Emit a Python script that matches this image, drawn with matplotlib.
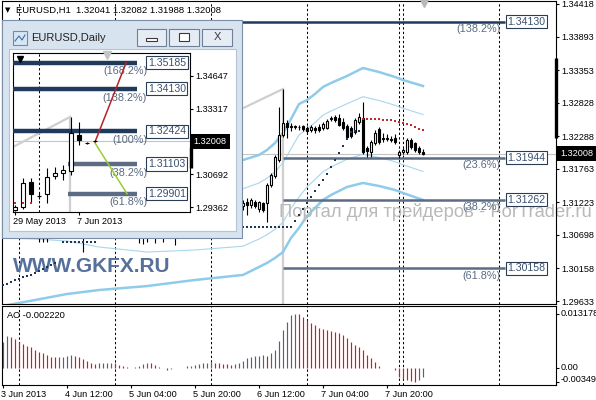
import matplotlib
matplotlib.use("Agg")
import matplotlib.pyplot as plt
import matplotlib.transforms as mtransforms
from matplotlib.patches import Rectangle
from matplotlib.lines import Line2D
import numpy as np

plt.rcParams['font.family'] = ['Liberation Sans', 'DejaVu Sans']

W, H = 596, 400

# ---------------- EURUSD H1 (bar number, OHLC) ----------------
h1_bar = [9, 10, 11, 20, 34, 35, 36, 38, 40, 43,
          60, 61, 62, 63, 64, 65, 66, 67, 68, 69,
          70, 71, 72, 73, 74, 75, 76, 77, 78, 79,
          80, 81, 82, 83, 84, 85, 86, 87, 88, 89,
          90, 91, 92, 93, 94, 95, 96, 97, 98, 99,
          100, 101, 102, 103, 104, 105]
h1_open = [1.30720, 1.30700, 1.30740, 1.30710, 1.30760, 1.30720, 1.30750, 1.30700, 1.30730, 1.30710,
           1.31164, 1.31228, 1.31180, 1.31228, 1.31115, 1.31212, 1.31212, 1.31502, 1.31647, 1.31905,
           1.32308, 1.32501, 1.32453, 1.32437, 1.32437, 1.32445, 1.32420, 1.32388, 1.32420, 1.32437,
           1.32420, 1.32420, 1.32573, 1.32598, 1.32582, 1.32517, 1.32453, 1.32420, 1.32356, 1.32517,
           1.32582, 1.32098, 1.32034, 1.32179, 1.32404, 1.32259, 1.32259, 1.32235, 1.32259, 1.31985,
           1.32034, 1.32034, 1.32227, 1.32179, 1.32098, 1.32041]
h1_high = [1.30790, 1.30760, 1.30800, 1.30820, 1.30830, 1.30790, 1.30810, 1.30780, 1.30800, 1.30790,
           1.31260, 1.31293, 1.31293, 1.31260, 1.31244, 1.31228, 1.31534, 1.31695, 1.31985, 1.32759,
           1.33049, 1.32549, 1.32501, 1.32469, 1.32469, 1.32469, 1.32453, 1.32469, 1.32453, 1.32485,
           1.32517, 1.32565, 1.32614, 1.32630, 1.32646, 1.32582, 1.32485, 1.32453, 1.32582, 1.32662,
           1.32839, 1.32130, 1.32227, 1.32388, 1.32437, 1.32340, 1.32324, 1.32292, 1.32324, 1.32066,
           1.32098, 1.32259, 1.32259, 1.32195, 1.32130, 1.32082]
h1_low = [1.30584, 1.30590, 1.30584, 1.30423, 1.30568, 1.30552, 1.30584, 1.30568, 1.30584, 1.30536,
          1.31099, 1.31019, 1.31132, 1.31132, 1.31067, 1.31067, 1.30906, 1.31470, 1.31615, 1.31873,
          1.32276, 1.32259, 1.32372, 1.32404, 1.32388, 1.32372, 1.32324, 1.32356, 1.32340, 1.32356,
          1.32388, 1.32404, 1.32533, 1.32517, 1.32453, 1.32388, 1.32243, 1.32259, 1.32324, 1.32485,
          1.32002, 1.31953, 1.31953, 1.32147, 1.32163, 1.32195, 1.32211, 1.32195, 1.32163, 1.31937,
          1.32002, 1.32002, 1.32082, 1.32034, 1.32002, 1.31988]
h1_close = [1.30700, 1.30740, 1.30690, 1.30760, 1.30720, 1.30750, 1.30700, 1.30730, 1.30710, 1.30750,
            1.31212, 1.31180, 1.31260, 1.31164, 1.31228, 1.31099, 1.31502, 1.31663, 1.31953, 1.32308,
            1.32501, 1.32437, 1.32437, 1.32445, 1.32429, 1.32404, 1.32372, 1.32437, 1.32380, 1.32388,
            1.32485, 1.32533, 1.32582, 1.32549, 1.32469, 1.32420, 1.32276, 1.32292, 1.32549, 1.32598,
            1.32034, 1.32050, 1.32195, 1.32340, 1.32195, 1.32251, 1.32243, 1.32227, 1.32195, 1.32034,
            1.32066, 1.32227, 1.32114, 1.32066, 1.32034, 1.32008]

# Bollinger bands: middle line and deviation, read at sample bars
bb_bar = [0, 8, 16, 24, 36, 48, 60, 64, 66, 68, 70, 72, 74, 76, 78, 80, 82, 86, 90, 94, 98, 100, 105]
bb_mid = [1.31744, 1.31615, 1.31454, 1.31196, 1.30970, 1.30938, 1.30979, 1.31083, 1.31156, 1.31252,
          1.31381, 1.31607, 1.31808, 1.31937, 1.32050, 1.32171, 1.32243, 1.32364, 1.32461, 1.32404,
          1.32332, 1.32283, 1.32179]
bb_dev = [0.01095, 0.00983, 0.00854, 0.00693, 0.00548, 0.00483, 0.00463, 0.00451, 0.00455, 0.00463,
          0.00479, 0.00479, 0.00499, 0.00467, 0.00459, 0.00455, 0.00451, 0.00447, 0.00463, 0.00459,
          0.00455, 0.00455, 0.00459]

# Parabolic SAR
sar_up_bar = [0, 1, 2, 3, 4, 5, 6, 7, 8, 9, 10, 11, 12, 13,
              15, 16, 17, 18, 19, 20, 21, 22, 23,
              60, 61, 62, 63, 64, 65, 66, 67, 68, 69, 70, 71, 72,
              73, 74, 75, 76, 77, 78, 79, 80, 81, 82, 83, 84, 85, 86, 87, 88, 89]
sar_up = [1.29891, 1.29915, 1.29940, 1.29964, 1.29988, 1.30012, 1.30036, 1.30060, 1.30085, 1.30117,
          1.30149, 1.30181, 1.30213, 1.30246,
          1.30584, 1.30584, 1.30584, 1.30584, 1.30584, 1.30584, 1.30584, 1.30584, 1.30584,
          1.30825, 1.30825, 1.30825, 1.30825, 1.30825, 1.30825, 1.30825, 1.30825, 1.30825, 1.30825,
          1.30825, 1.30825, 1.30825,
          1.30922, 1.31019, 1.31115, 1.31212, 1.31309, 1.31405, 1.31502, 1.31583, 1.31679, 1.31792,
          1.31905, 1.32018, 1.32130, 1.32243, 1.32356, 1.32372, 1.32372]
sar_dn_bar = list(range(90, 106))
sar_dn = [1.32573, 1.32573, 1.32573, 1.32565, 1.32565, 1.32557, 1.32549, 1.32541,
          1.32533, 1.32517, 1.32501, 1.32485, 1.32461, 1.32436, 1.32412, 1.32388]

# Fibonacci levels on H1
fib_levels = [1.34130, 1.31944, 1.31262, 1.30158]
fib_names = ['(138.2%)', '(23.6%)', '(38.2%)', '(61.8%)']
fib_start = [0, 70, 70, 70]
trend_bar = [50, 70]
trend_price = [1.32429, 1.33049]

main_ticks = [1.34418, 1.33893, 1.33353, 1.32828, 1.32288, 1.31763, 1.31223, 1.30698, 1.30158, 1.29633]
bid = 1.32008

# Awesome oscillator
ao = [0.00634, 0.00781, 0.00756, 0.00708, 0.00634, 0.00586, 0.00537, 0.00512, 0.00439, 0.00390,
      0.00366, 0.00317, 0.00275, 0.00262, 0.00268, 0.00275, 0.00290, 0.00315, 0.00295, 0.00270,
      0.00220, 0.00170, 0.00122, 0.00098, 0.00110, 0.00118, 0.00125, 0.00130, 0.00120, 0.00075,
      0.00050, 0.00025, 0.00005, 0.00020, 0.00050, 0.00095, 0.00122, 0.00115, 0.00075, 0.00030,
      0.00005, -0.00045, -0.00025, -0.00005, 0.00002, 0.00010, 0.00050, 0.00058, 0.00075, 0.00098,
      0.00120, 0.00125, 0.00145, 0.00130, 0.00120, 0.00100, 0.00095, 0.00078, 0.00098, 0.00122,
      0.00170, 0.00245, 0.00268, 0.00295, 0.00300, 0.00305, 0.00300, 0.00366, 0.00440, 0.00660,
      0.00927, 0.01122, 0.01293, 0.01318, 0.01310, 0.01245, 0.01171, 0.01098, 0.01049, 0.00976,
      0.00952, 0.00927, 0.00903, 0.00878, 0.00854, 0.00805, 0.00732, 0.00634, 0.00561, 0.00512,
      0.00439, 0.00317, 0.00244, 0.00146, 0.00049, 0.00012, 0.00006, 0.00002, -0.00050, -0.00230,
      -0.00270, -0.00300, -0.00325, -0.00349, -0.00290, -0.00222]
ao_ticks = [0.013178, 0.0, -0.00349]
ao_tick_labels = ['0.013178', '0.00', '-0.00349']

date_bars = [0, 16, 32, 48, 64, 80, 96]
date_labels = ['3 Jun 2013', '4 Jun 12:00', '5 Jun 04:00', '5 Jun 20:00',
               '6 Jun 12:00', '7 Jun 04:00', '7 Jun 20:00']
grid_bars = [4, 28, 52, 76, 99, 100, 124]

# ---------------- EURUSD Daily (inset window) ----------------
d_bar = list(range(11))
d_open = [1.29246, 1.29367, 1.30374, 1.29810, 1.29891, 1.30616, 1.30738, 1.30818, 1.32269, 1.31947, 1.32041]
d_high = [1.29447, 1.30536, 1.30536, 1.29931, 1.30939, 1.30980, 1.31060, 1.33000, 1.32793, 1.31987, 1.32082]
d_low = [1.29206, 1.29286, 1.29528, 1.29689, 1.29528, 1.30496, 1.30455, 1.30657, 1.31866, 1.31906, 1.31988]
d_close = [1.29367, 1.30334, 1.29891, 1.29790, 1.30576, 1.30738, 1.30858, 1.32350, 1.32067, 1.31927, 1.32008]
d_sar_bar = [0, 1, 2]
d_sar = [1.29528, 1.29528, 1.29528]
d_fib_levels = [1.35185, 1.34130, 1.32424, 1.31103, 1.29901]
d_fib_names = ['(168.2%)', '(138.2%)', '(100%)', '(38.2%)', '(61.8%)']
d_fib_start = [-0.25, -0.25, -0.25, 6.6, 6.6]
d_up_x, d_up_y = [10, 13.9], [1.31987, 1.35185]
d_dn_x, d_dn_y = [10, 14], [1.31947, 1.29901]
d_trend_x, d_trend_y = [-0.25, 6.9], [1.31785, 1.33000]
d_ticks = [1.34647, 1.33317, 1.30692, 1.29362]
d_date_bars = [0, 8]
d_date_labels = ['29 May 2013', '7 Jun 2013']
d_bar_range = [1.31785, 1.30939]
h1_bar_range = [1.33548, 1.32259]

NAVY = '#1f3a5a'
SLATE = '#5c6c84'
BAND = '#8fcbea'
AO_UP = '#5a6272'
AO_DN = '#c0222a'


def box(x0, y0, x1, y1):
    return [x0 / W, 1 - y1 / H, (x1 - x0) / W, (y1 - y0) / H]


def candles(a, bars, o, h, l, c, width):
    bars, o, h, l, c = map(np.asarray, (bars, o, h, l, c))
    a.vlines(bars, l, h, color='black', lw=0.8, zorder=4)
    up = c >= o
    bottom = np.minimum(o, c)
    height = np.abs(c - o)
    a.bar(bars[up], height[up], width, bottom[up], facecolor='white',
          edgecolor='black', lw=0.8, zorder=5)
    a.bar(bars[~up], height[~up], width, bottom[~up], facecolor='black',
          edgecolor='black', lw=0.8, zorder=5)


fig = plt.figure(figsize=(W / 100, H / 100), dpi=100)
ax = fig.add_axes(box(2, 1, 556, 304))
ax_ao = fig.add_axes(box(2, 306, 556, 385))

# ---------------- main H1 chart ----------------
for a in (ax, ax_ao):
    a.set_xlim(-0.25, 138.25)
    for s in a.spines.values():
        s.set_linewidth(0.8)
    for g in grid_bars:
        a.axvline(g, color='black', lw=0.75, ls=(0, (2.2, 2.2)), zorder=1)
ax.set_ylim(1.29585, 1.34466)

ax.axhline(bid, color='#c4c4c4', lw=0.8, zorder=1)
ax.plot(trend_bar, trend_price, color='#cfcfcf', lw=1.6, zorder=1)
ax.vlines(trend_bar[-1], ax.get_ylim()[0], trend_price[-1], color='#cfcfcf', lw=1.6, zorder=1)

mid = np.array(bb_mid)
dev = np.array(bb_dev)
ax.plot(bb_bar, mid + 2 * dev, color=BAND, lw=1.8, zorder=2)
ax.plot(bb_bar, mid - 2 * dev, color=BAND, lw=1.8, zorder=2)
ax.plot(bb_bar, mid + dev, color='#a9d6ec', lw=0.8, zorder=2)
ax.plot(bb_bar, mid - dev, color='#a9d6ec', lw=0.8, zorder=2)

for lev, name, start in zip(fib_levels, fib_names, fib_start):
    col = NAVY if lev > 1.33 else SLATE
    ax.hlines(lev, start, 125.5, color=col, lw=1.8, zorder=3)
    ax.annotate(name, (124.3, lev), xytext=(0, -5.2), textcoords='offset points',
                ha='right', va='center', fontsize=7.8, color='#5a6a82', zorder=3)
    ax.text(126.1, lev, f'{lev:.5f}', ha='left', va='center', fontsize=7.6, color='#3c5070',
            zorder=6, bbox=dict(boxstyle='square,pad=0.15', fc='white', ec='#2b3d52', lw=0.8))

candles(ax, h1_bar, h1_open, h1_high, h1_low, h1_close, 0.55)
ax.plot(sar_up_bar, sar_up, ls='none', marker='s', ms=1.9, mew=0, color='#1c3658', zorder=6)
ax.plot(sar_dn_bar, sar_dn, ls='none', marker='s', ms=2.1, mew=0, color='#c22a2a', zorder=6)

ax.plot([105.25], [0.995], transform=mtransforms.blended_transform_factory(ax.transData, ax.transAxes),
        marker='v', ms=6, color='#b8b8b8', ls='none', clip_on=False, zorder=6)

ax.yaxis.tick_right()
ax.set_yticks(main_ticks)
ax.set_yticklabels([f'{v:.5f}' for v in main_ticks])
ax.tick_params(axis='y', length=2.2, width=0.8, labelsize=6.6, pad=2)
ax.set_xticks([])

yx = mtransforms.blended_transform_factory(ax.transAxes, ax.transData)
ax.plot([1.0, 1.0], h1_bar_range, transform=yx, color='black', lw=2.4, clip_on=False,
        solid_capstyle='butt', zorder=7)
ax.text(1.0, bid, f'{bid:.5f}', transform=yx + mtransforms.ScaledTranslation(0.045, 0, fig.dpi_scale_trans),
        ha='left', va='center', fontsize=6.6, color='white', clip_on=False, zorder=8,
        bbox=dict(boxstyle='square,pad=0.35', fc='black', ec='none'))

# watermarks
ax.text(279 / W, 1 - 212 / H, 'Портал для трейдеров - ForTrader.ru', transform=fig.transFigure,
        fontsize=13.2, color='#b9b9b9', ha='left', va='center', zorder=2)
ax.text(13 / W, 1 - 266 / H, 'WWW.GKFX.RU', transform=fig.transFigure, fontsize=15,
        fontweight='bold', color='#56709c', ha='left', va='center', zorder=2)

fig.text(5 / W, 1 - 10 / H, '▼', family='DejaVu Sans', fontsize=5, va='center', zorder=3)
fig.text(16 / W, 1 - 10 / H, 'EURUSD,H1  1.32041 1.32082 1.31988 1.32008', fontsize=6.8,
         va='center', zorder=3)

# ---------------- AO panel ----------------
ax_ao.set_ylim(-0.00415, 0.01513)
ao_arr = np.array(ao)
ao_bar = np.arange(len(ao_arr))
rising = np.r_[True, ao_arr[1:] >= ao_arr[:-1]]
ax_ao.vlines(ao_bar[rising], 0, ao_arr[rising], color=AO_UP, lw=0.85, zorder=3)
ax_ao.vlines(ao_bar[~rising], 0, ao_arr[~rising], color=AO_DN, lw=0.85, zorder=3)
ax_ao.yaxis.tick_right()
ax_ao.set_yticks(ao_ticks)
ax_ao.set_yticklabels([])
ax_ao.tick_params(axis='y', length=2.2, width=0.8)
ao_yx = mtransforms.blended_transform_factory(ax_ao.transAxes, ax_ao.transData)
ao_nudge = [0, 0, 3]
for v, lab, nudge in zip(ao_ticks, ao_tick_labels, ao_nudge):
    ax_ao.text(1.0, v, lab, transform=ao_yx + mtransforms.ScaledTranslation(0.05, nudge / 100, fig.dpi_scale_trans),
               ha='left', va='center', fontsize=6.6, clip_on=False)
ax_ao.set_xticks(date_bars)
ax_ao.set_xticklabels(date_labels, ha='left')
ax_ao.tick_params(axis='x', length=2.2, width=0.8, labelsize=6.6, pad=1.5)
shift = mtransforms.ScaledTranslation(-0.02, 0, fig.dpi_scale_trans)
for lbl in ax_ao.get_xticklabels():
    lbl.set_transform(lbl.get_transform() + shift)
ax_ao.text(0.009, 0.88, 'AO -0.002220', transform=ax_ao.transAxes, fontsize=6.7, va='center')

# ---------------- inset window (EURUSD, Daily) ----------------
def rect(x0, y0, x1, y1, fc, ec, lw=0.8, z=5):
    r = Rectangle((x0 / W, 1 - y1 / H), (x1 - x0) / W, (y1 - y0) / H, transform=fig.transFigure,
                  fc=fc, ec=ec, lw=lw, zorder=z)
    fig.add_artist(r)

rect(2, 20, 242, 238, '#d8e3f0', '#7b8ea6')
rect(9, 49, 236, 231, 'white', '#b5c3d3')
rect(13, 31, 27, 45, '#d7e6f5', '#6d8bb0', z=6)
fig.add_artist(Line2D([15 / W, 19 / W, 22 / W, 25 / W], [1 - 41 / H, 1 - 36 / H, 1 - 40 / H, 1 - 35 / H],
                      transform=fig.transFigure, color='#3d6fa8', lw=0.8, zorder=7))
for bx0, bx1 in [(137, 166), (169, 199), (202, 232)]:
    rect(bx0, 29, bx1, 46, '#e6ecf3', '#6e7f96', z=6)
rect(146, 38, 157, 41, 'white', '#3a3a3a', z=7)
rect(179, 33, 189, 41, 'white', '#3a3a3a', z=7)
fig.text(217 / W, 1 - 37.5 / H, 'X', fontsize=8, color='#3a3a3a', ha='center', va='center', zorder=7)
fig.text(31 / W, 1 - 38 / H, 'EURUSD,Daily', fontsize=8, color='#222222', va='center', zorder=7)

ax_in = fig.add_axes(box(13, 53, 190, 212))
ax_in.set_zorder(8)
ax_in.set_xlim(-0.25, 21.875)
ax_in.set_ylim(1.29165, 1.35574)
ax_in.axvline(3, color='black', lw=0.75, ls=(0, (2.2, 2.2)), zorder=1)
ax_in.axhline(bid, color='#c4c4c4', lw=0.8, zorder=1)
ax_in.plot(d_trend_x, d_trend_y, color='#cfcfcf', lw=1.6, zorder=1)
ax_in.vlines(d_trend_x[-1], ax_in.get_ylim()[0], d_trend_y[-1], color='#cfcfcf', lw=1.6, zorder=1)
for lev, name, start in zip(d_fib_levels, d_fib_names, d_fib_start):
    col = NAVY if lev > 1.32 else SLATE
    ax_in.hlines(lev, start, 15.25, color=col, lw=3.2, zorder=3)
    ax_in.annotate(name, (16.5, lev), xytext=(0, -6.3), textcoords='offset points',
                   ha='right', va='center', fontsize=7.8, color='#5a6a82', zorder=3)
    ax_in.text(16.6, lev, f'{lev:.5f}', ha='left', va='center', fontsize=7.6, color='#3c5070',
               zorder=6, bbox=dict(boxstyle='square,pad=0.15', fc='white', ec='#2b3d52', lw=0.8))
ax_in.plot(d_up_x, d_up_y, color='#b3242a', lw=1.1, zorder=4)
ax_in.plot(d_dn_x, d_dn_y, color='#9acd32', lw=1.1, zorder=4)
candles(ax_in, d_bar, d_open, d_high, d_low, d_close, 0.55)
ax_in.plot(d_sar_bar, d_sar, ls='none', marker='s', ms=1.8, mew=0, color='#c22a2a', zorder=6)
ax_in.plot([0.04], [0.965], transform=ax_in.transAxes, marker='v', ms=4, color='black', ls='none', zorder=7)
ax_in.plot([11.5], [0.99], transform=mtransforms.blended_transform_factory(ax_in.transData, ax_in.transAxes),
           marker='v', ms=6, color='#c4c4c4', ls='none', clip_on=False, zorder=7)

ax_in.yaxis.tick_right()
ax_in.set_yticks(d_ticks)
ax_in.set_yticklabels([f'{v:.5f}' for v in d_ticks])
ax_in.tick_params(axis='y', length=2.2, width=0.8, labelsize=6.6, pad=2)
ax_in.set_xticks(d_date_bars)
ax_in.set_xticklabels(d_date_labels, ha='left')
ax_in.tick_params(axis='x', length=2.2, width=0.8, labelsize=6.6, pad=1.5)
for lbl in ax_in.get_xticklabels():
    lbl.set_transform(lbl.get_transform() + shift)
for s in ax_in.spines.values():
    s.set_linewidth(0.8)
iyx = mtransforms.blended_transform_factory(ax_in.transAxes, ax_in.transData)
ax_in.plot([1.005, 1.005], d_bar_range, transform=iyx, color='black', lw=2.4, clip_on=False,
           solid_capstyle='butt', zorder=7)
ax_in.text(1.0, bid, f'{bid:.5f}', transform=iyx + mtransforms.ScaledTranslation(0.035, 0, fig.dpi_scale_trans),
           ha='left', va='center', fontsize=6.6, color='white', clip_on=False, zorder=8,
           bbox=dict(boxstyle='square,pad=0.35', fc='black', ec='none'))

fig.savefig('out.png', dpi=100)
